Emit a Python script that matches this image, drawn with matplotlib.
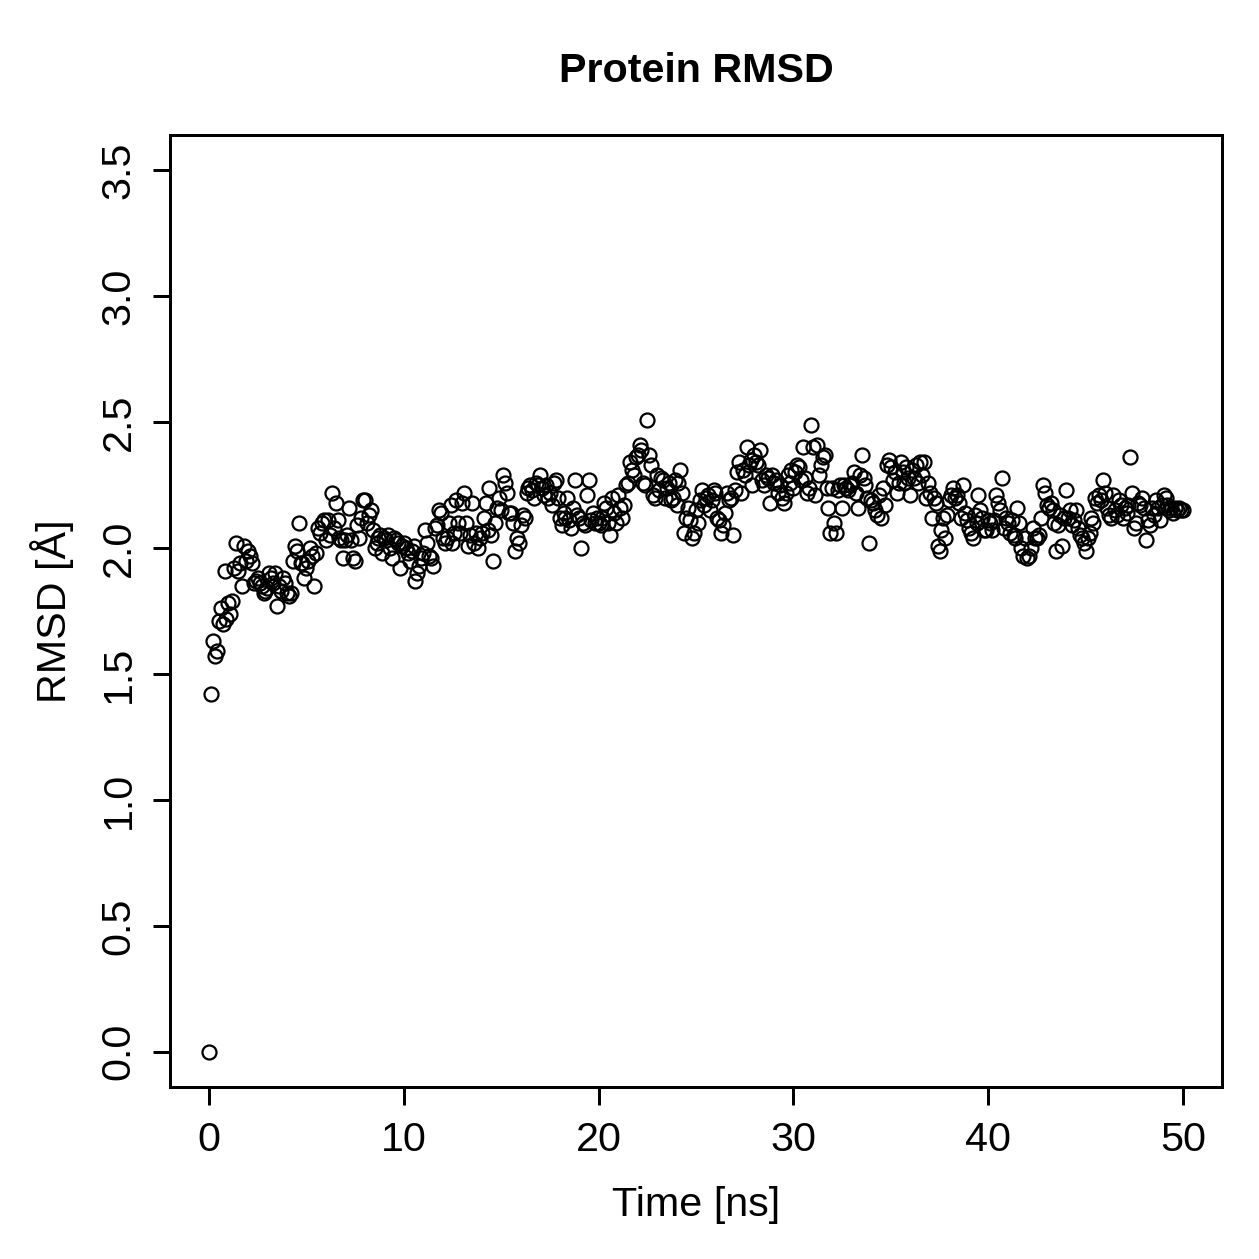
import numpy as np
import matplotlib
matplotlib.use('Agg')
from matplotlib import pyplot as plt

plt.rcParams['font.family'] = ['Liberation Sans', 'DejaVu Sans']

# RMSD values every 0.1 ns
rmsd = [0.00,
    1.42, 1.63, 1.57, 1.59, 1.71, 1.76, 1.70, 1.91, 1.72, 1.78,
    1.74, 1.79, 1.92, 2.02, 1.91, 1.94, 1.85, 2.01, 1.95, 1.99,
    1.97, 1.94, 1.86, 1.87, 1.88, 1.86, 1.85, 1.82, 1.83, 1.84,
    1.90, 1.88, 1.86, 1.90, 1.77, 1.85, 1.83, 1.88, 1.86, 1.82,
    1.81, 1.82, 1.95, 2.01, 1.99, 2.10, 1.94, 1.94, 1.88, 1.92,
    1.95, 2.00, 1.97, 1.85, 1.98, 2.08, 2.06, 2.10, 2.11, 2.03,
    2.11, 2.05, 2.22, 2.08, 2.18, 2.11, 2.04, 2.03, 1.96, 2.03,
    2.05, 2.16, 2.03, 1.96, 1.95, 2.09, 2.04, 2.12, 2.19, 2.19,
    2.10, 2.13, 2.15, 2.07, 2.00, 2.02, 2.04, 2.05, 1.98, 2.04,
    2.03, 2.05, 2.00, 1.96, 2.04, 2.03, 2.02, 1.92, 2.01, 2.02,
    2.00, 1.98, 1.95, 1.99, 2.01, 1.87, 1.90, 1.93, 1.96, 1.98,
    2.07, 2.02, 1.97, 1.96, 1.93, 2.08, 2.09, 2.15, 2.14, 2.04,
    2.02, 2.04, 2.10, 2.17, 2.02, 2.06, 2.19, 2.10, 2.06, 2.18,
    2.22, 2.10, 2.01, 2.05, 2.18, 2.02, 2.06, 2.00, 2.04, 2.06,
    2.12, 2.18, 2.07, 2.24, 2.05, 1.95, 2.10, 2.16, 2.20, 2.15,
    2.29, 2.26, 2.22, 2.14, 2.14, 2.10, 1.99, 2.04, 2.02, 2.09,
    2.13, 2.12, 2.22, 2.24, 2.25, 2.23, 2.20, 2.26, 2.25, 2.29,
    2.24, 2.21, 2.25, 2.20, 2.22, 2.17, 2.26, 2.27, 2.20, 2.12,
    2.09, 2.14, 2.12, 2.20, 2.11, 2.08, 2.16, 2.27, 2.13, 2.12,
    2.00, 2.10, 2.09, 2.21, 2.27, 2.11, 2.14, 2.10, 2.12, 2.10,
    2.09, 2.12, 2.18, 2.16, 2.10, 2.05, 2.20, 2.14, 2.10, 2.21,
    2.16, 2.12, 2.17, 2.25, 2.26, 2.34, 2.31, 2.29, 2.36, 2.37,
    2.41, 2.39, 2.26, 2.25, 2.51, 2.37, 2.33, 2.21, 2.20, 2.29,
    2.23, 2.28, 2.27, 2.20, 2.24, 2.26, 2.19, 2.20, 2.27, 2.17,
    2.26, 2.31, 2.22, 2.06, 2.12, 2.16, 2.11, 2.04, 2.06, 2.15,
    2.10, 2.19, 2.23, 2.17, 2.20, 2.21, 2.15, 2.19, 2.23, 2.22,
    2.12, 2.11, 2.06, 2.09, 2.14, 2.22, 2.19, 2.20, 2.05, 2.23,
    2.30, 2.34, 2.22, 2.31, 2.29, 2.40, 2.33, 2.35, 2.25, 2.37,
    2.34, 2.33, 2.39, 2.27, 2.25, 2.29, 2.28, 2.18, 2.29, 2.26,
    2.27, 2.22, 2.25, 2.20, 2.18, 2.22, 2.29, 2.26, 2.31, 2.24,
    2.30, 2.33, 2.32, 2.27, 2.40, 2.28, 2.22, 2.24, 2.49, 2.40,
    2.21, 2.41, 2.29, 2.33, 2.36, 2.37, 2.24, 2.16, 2.06, 2.24,
    2.10, 2.06, 2.23, 2.25, 2.16, 2.25, 2.24, 2.23, 2.25, 2.26,
    2.30, 2.22, 2.16, 2.29, 2.37, 2.28, 2.25, 2.20, 2.02, 2.19,
    2.18, 2.15, 2.13, 2.21, 2.12, 2.24, 2.17, 2.33, 2.35, 2.32,
    2.27, 2.30, 2.22, 2.26, 2.34, 2.30, 2.26, 2.32, 2.28, 2.21,
    2.31, 2.28, 2.33, 2.26, 2.34, 2.29, 2.34, 2.20, 2.26, 2.22,
    2.12, 2.20, 2.18, 2.01, 1.99, 2.07, 2.12, 2.04, 2.13, 2.19,
    2.21, 2.24, 2.20, 2.21, 2.18, 2.12, 2.25, 2.14, 2.11, 2.08,
    2.06, 2.04, 2.13, 2.10, 2.21, 2.15, 2.12, 2.07, 2.07, 2.11,
    2.10, 2.07, 2.11, 2.21, 2.18, 2.15, 2.28, 2.08, 2.12, 2.10,
    2.06, 2.11, 2.05, 2.04, 2.16, 2.10, 2.00, 1.97, 2.04, 1.96,
    1.97, 2.00, 2.08, 2.04, 2.04, 2.05, 2.12, 2.25, 2.22, 2.17,
    2.16, 2.18, 2.15, 2.10, 1.99, 2.09, 2.13, 2.01, 2.12, 2.23,
    2.12, 2.15, 2.09, 2.11, 2.15, 2.08, 2.05, 2.04, 2.02, 1.99,
    2.04, 2.06, 2.12, 2.10, 2.20, 2.18, 2.21, 2.19, 2.27, 2.22,
    2.16, 2.13, 2.12, 2.21, 2.15, 2.13, 2.19, 2.17, 2.12, 2.16,
    2.14, 2.17, 2.36, 2.22, 2.08, 2.10, 2.18, 2.17, 2.20, 2.16,
    2.03, 2.11, 2.09, 2.16, 2.13, 2.19, 2.16, 2.11, 2.17, 2.21,
    2.20, 2.17, 2.15, 2.16, 2.14, 2.16, 2.15, 2.16, 2.15, 2.15]
time_ns = [i / 10 for i in range(len(rmsd))]

xticks = [0, 10, 20, 30, 40, 50]
yticks = [0.0, 0.5, 1.0, 1.5, 2.0, 2.5, 3.0, 3.5]

dpi = 180
fig = plt.figure(figsize=(1259 / dpi, 1259 / dpi), dpi=dpi)
ax = fig.add_axes([170 / 1259, 1 - 1087 / 1259, 1052 / 1259, 952 / 1259])

ax.plot(time_ns, rmsd, linestyle='none', marker='o', markersize=5.6,
        markerfacecolor='none', markeredgecolor='black', markeredgewidth=0.9)

ax.set_xlim(-2, 52)
ax.set_ylim(-0.14, 3.64)
ax.set_xticks(xticks)
ax.set_yticks(yticks)
ax.set_xticklabels([str(t) for t in xticks])
ax.set_yticklabels(['{:.1f}'.format(t) for t in yticks], rotation=90, va='center')
ax.tick_params(direction='out', length=7, width=1.2, labelsize=16.5)
ax.tick_params(axis='x', pad=6.5)
ax.tick_params(axis='y', pad=6)
for s in ax.spines.values():
    s.set_linewidth(1.2)

ax.set_xlabel('Time [ns]', fontsize=16.5, labelpad=11)
ax.set_ylabel('RMSD [Å]', fontsize=16.5, labelpad=10)
ax.set_title('Protein RMSD', fontsize=16.5, fontweight='bold', pad=21)

plt.savefig('out.png', dpi=dpi)
